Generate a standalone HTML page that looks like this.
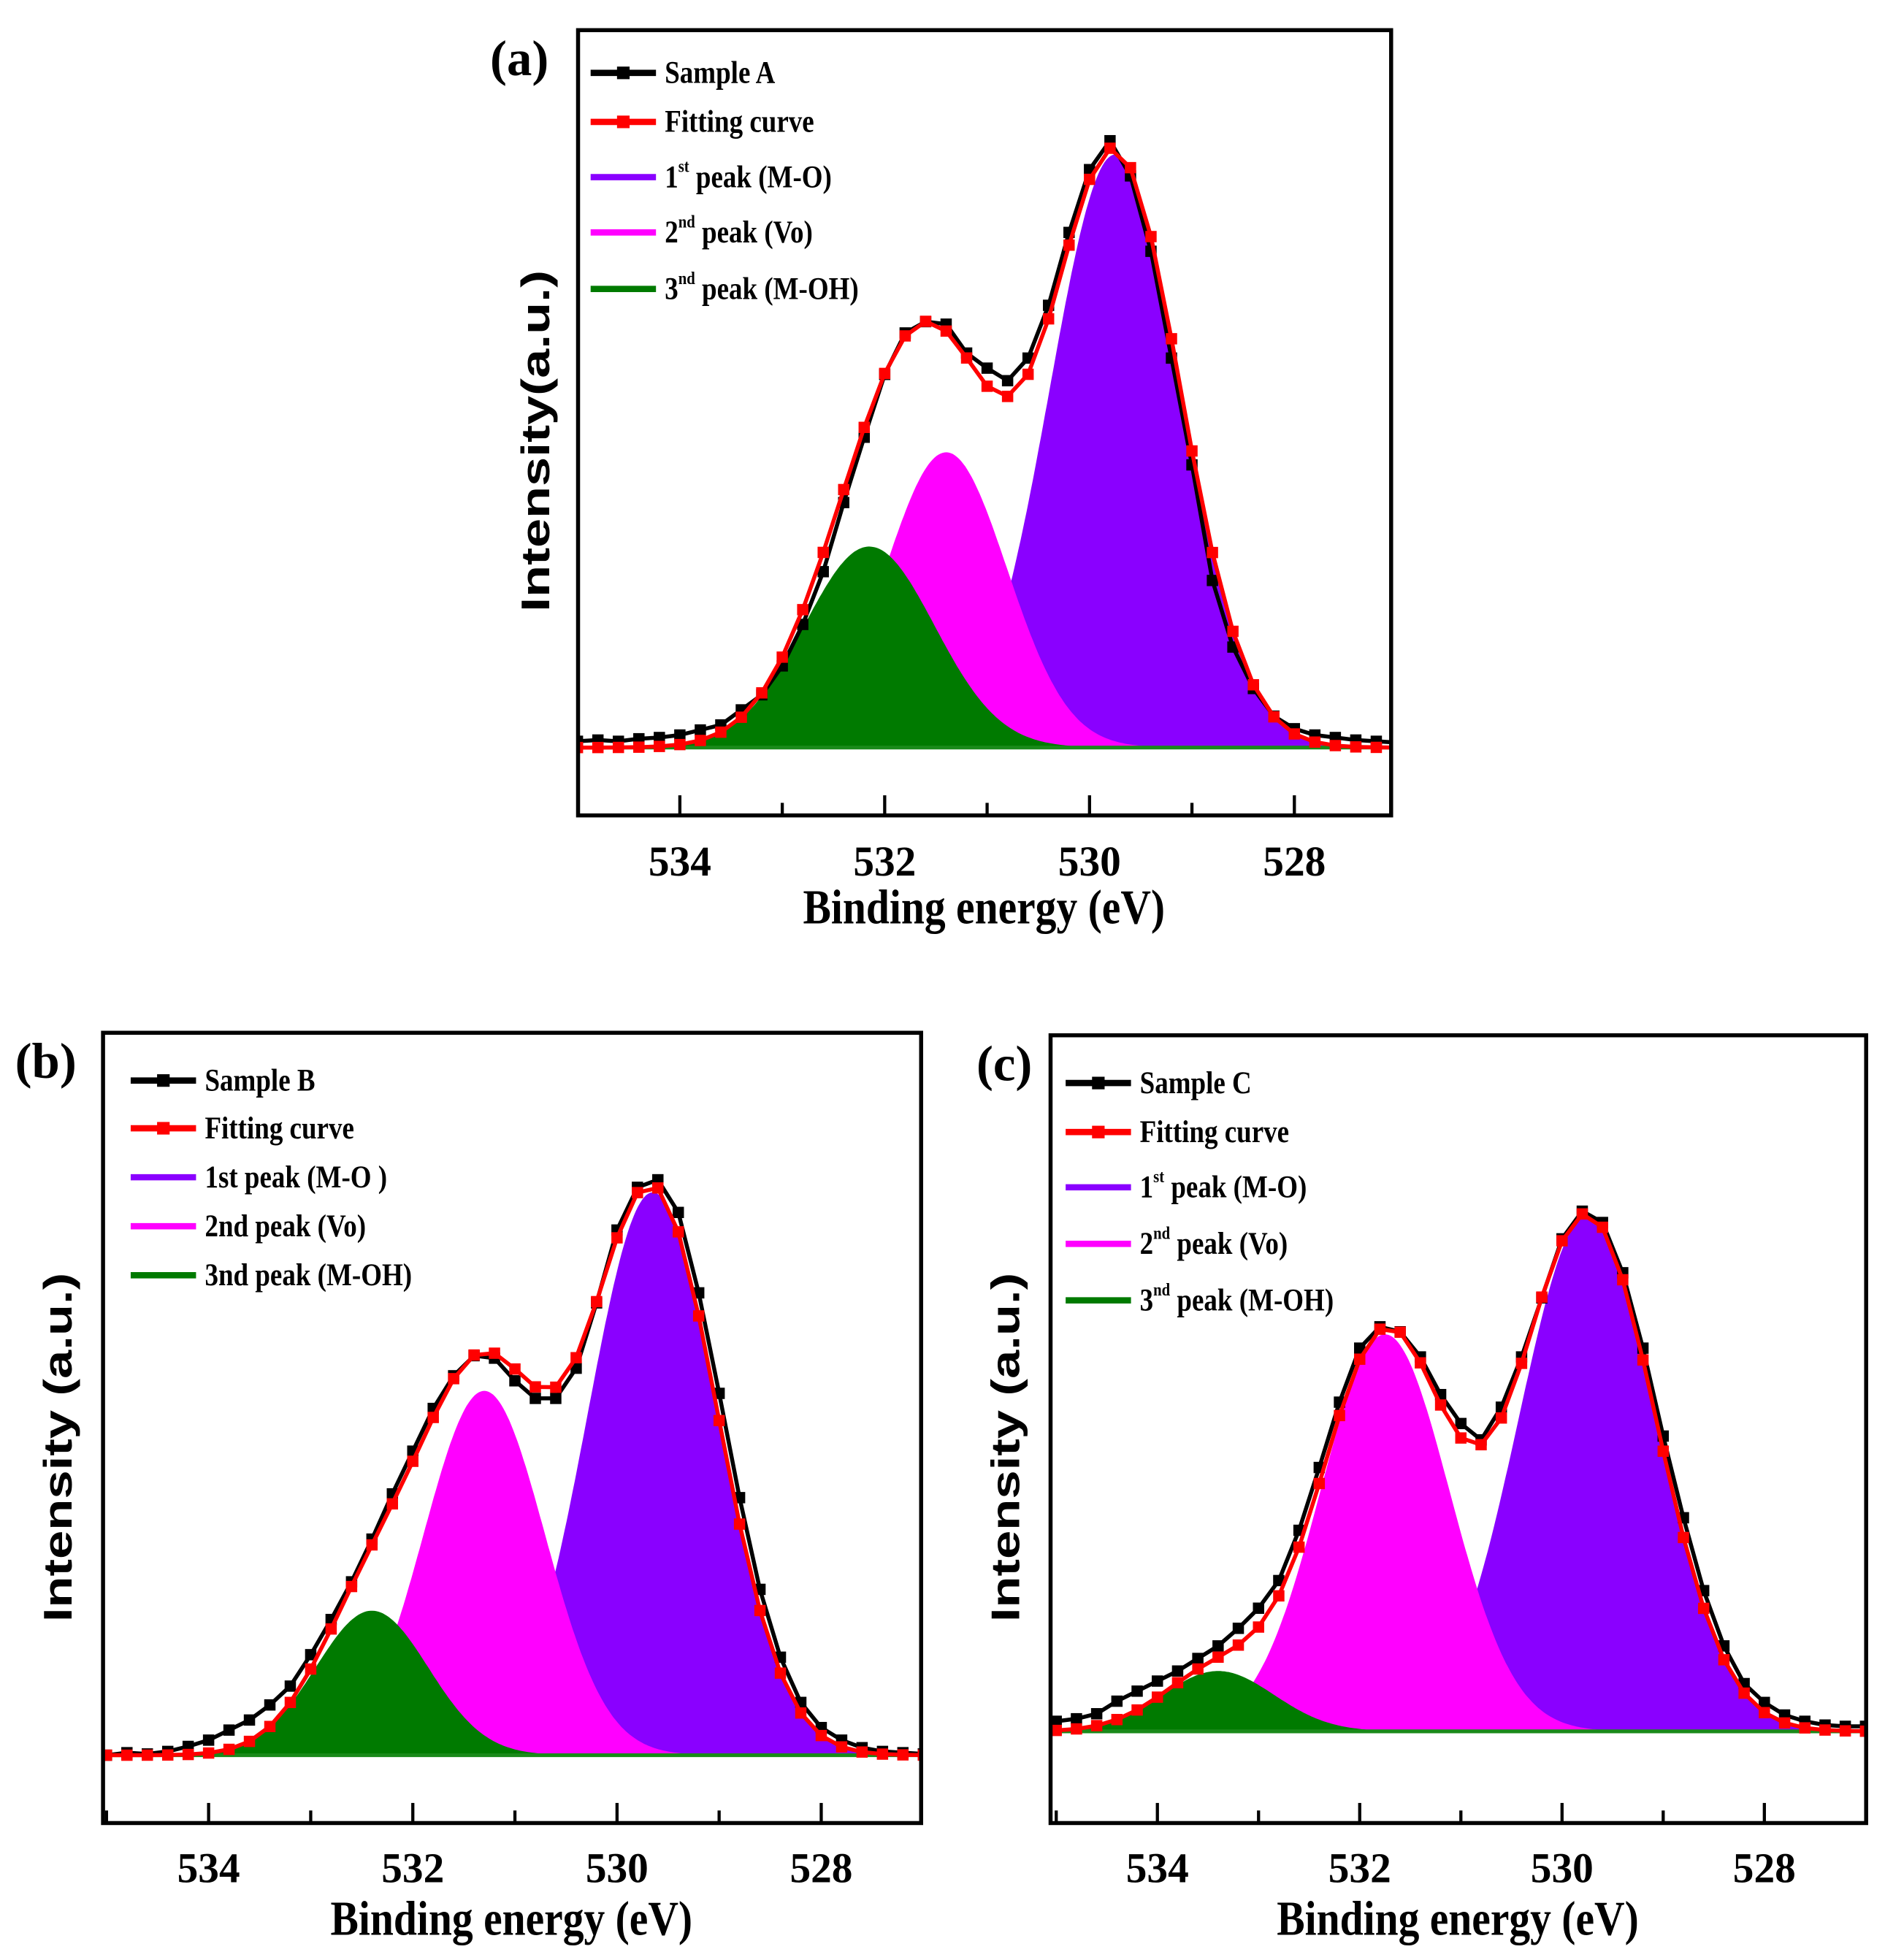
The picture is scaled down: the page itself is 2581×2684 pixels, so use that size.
<!DOCTYPE html>
<html><head><meta charset="utf-8"><style>
html,body{margin:0;padding:0;background:#fff;}
svg{display:block;}
text{font-family:"Liberation Serif",serif;font-weight:bold;fill:#000;}
.sans{font-family:"Liberation Sans",sans-serif;}
</style></head><body>
<svg id="fig" width="2581" height="2684" viewBox="0 0 1500 1560" preserveAspectRatio="none" xmlns="http://www.w3.org/2000/svg"></svg>
<script>
// ---- data (binding energy grid in eV, intensities in arbitrary units) ----
const energyStart = 535.0;
const energyStep = -0.2;
const sampleA = [5,6,5,7,8,10,14,18,30,42,65,98,140,195,247,297,330,339,337,314,302,292,310,352,410,460,483,455,395,310,225,133,80,47,25,15,10,8,6,5,4];
const sampleB = [0,2,1,3,7,12,20,28,40,55,80,108,138,172,208,242,276,302,318,316,298,284,284,308,360,418,452,458,432,368,288,205,132,78,42,22,12,6,3,2,1];
const sampleC = [8,10,14,24,32,40,48,58,68,82,98,120,160,210,262,305,322,318,298,268,245,232,258,298,345,392,414,405,365,305,235,170,112,68,38,23,13,8,5,4,4];
// peak components: centers (eV), heights, FWHM (eV) — order: M-O, Vo, M-OH
const centersA = [529.75, 531.4, 532.15];
const heightsA = [472, 235, 160];
const fwhmA = [1.5, 1.4, 1.5];
const centersB = [529.65, 531.3, 532.4];
const heightsB = [448, 290, 115];
const fwhmB = [1.5, 1.4, 1.3];
const centersC = [529.75, 531.75, 533.4];
const heightsC = [410, 316, 48];
const fwhmC = [1.6, 1.5, 1.3];
const tickLabels = ["534","532","530","528"];
const tickValues = [534, 532, 530, 528];
const legendA = ["Sample A","Fitting curve"];
const legendB = ["Sample B","Fitting curve"];
const legendC = ["Sample C","Fitting curve"];

const NS = "http://www.w3.org/2000/svg";
const svg = document.getElementById("fig");
function mk(tag, attrs, parent){
  const e = document.createElementNS(NS, tag);
  for (const k in attrs) e.setAttribute(k, attrs[k]);
  (parent||svg).appendChild(e);
  return e;
}
function gauss(x, c, h, w){ const k = 4*Math.LN2/(w*w); return h*Math.exp(-k*(x-c)*(x-c)); }

function panel(cfg){
  const g = mk("g", {});
  
  
  const X = e => cfg.x534 + (534 - e) * cfg.pxPerEv;
  const Y = v => cfg.base - v;
  const eMin = 534 - (cfg.right - cfg.x534)/cfg.pxPerEv, eMax = 534 + (cfg.x534 - cfg.left)/cfg.pxPerEv;
  const colors = ["#8a00ff","#ff00ff","#007a00"];
  const compNames = ["peak-m-o-fill","peak-vo-fill","peak-m-oh-fill"];
  const clip = mk("clipPath", {id: cfg.name+"-clip"}, g);
  mk("rect", {x:cfg.left, y:cfg.top, width:cfg.right-cfg.left, height:cfg.bottom-cfg.top}, clip);
  const plot = mk("g", {"clip-path":"url(#"+cfg.name+"-clip)"}, g);
  for (let i=0;i<3;i++){
    let d = "M"+X(eMax)+","+Y(0);
    for (let e=eMax; e>=eMin-0.01; e-=0.02) d += " L"+X(e).toFixed(1)+","+Y(gauss(e,cfg.c[i],cfg.h[i],cfg.w[i])).toFixed(1);
    d += " L"+X(eMin)+","+Y(0)+"Z";
    const p = mk("path", {d:d, fill:colors[i], stroke:"none"}, plot);
    
    
  }
  const bl = mk("line",{x1:cfg.left,x2:cfg.right,y1:Y(0),y2:Y(0),stroke:"#1a8a1a","stroke-width":3},plot);
  
  
  const n = cfg.sample.length;
  const es = [], fit = [];
  for (let i=0;i<n;i++){ const e = energyStart + i*energyStep; es.push(e);
    fit.push(cfg.c.reduce((s,c,j)=>s+gauss(e,c,cfg.h[j],cfg.w[j]),0)); }
  const line = (vals,color,name)=>{
    const p = mk("polyline",{points:vals.map((v,i)=>X(es[i]).toFixed(1)+","+Y(v).toFixed(1)).join(" "),fill:"none",stroke:color,"stroke-width":3.2,"stroke-linejoin":"round"},plot);
    
    
    vals.forEach((v,i)=>{
      const r = mk("rect",{x:X(es[i])-4.5,y:Y(v)-4.5,width:9,height:9,fill:color},plot);
      
      
    });
  };
  line(cfg.sample,"#000","sample-data");
  line(fit,"#ff0000","fitting-curve");
  const fr = mk("rect",{x:cfg.left,y:cfg.top,width:cfg.right-cfg.left,height:cfg.bottom-cfg.top,fill:"none",stroke:"#000","stroke-width":3.2},g);
  
  
  for (let e=535; e>=527; e-=1){
    const x = X(e); if (x<cfg.left+2||x>cfg.right-2) continue;
    const major = tickValues.includes(e);
    const t = mk("line",{x1:x,x2:x,y1:cfg.bottom,y2:cfg.bottom-(major?16:10),stroke:"#000","stroke-width":2.5},g);
    
    
  }
  tickLabels.forEach((lab,i)=>{
    const t = mk("text",{x:X(tickValues[i]),y:cfg.tickY,"font-size":34,"text-anchor":"middle",textLength:50,lengthAdjust:"spacingAndGlyphs"},g);
    t.textContent = lab;
    
    
  });
  const xt = mk("text",{x:cfg.xTitleX,y:cfg.xTitleY,"font-size":39,"text-anchor":"middle",textLength:288,lengthAdjust:"spacingAndGlyphs"},g);
  xt.textContent = "Binding energy (eV)";
  
  
  const yt = mk("text",{x:0,y:0,"font-size":32,"text-anchor":"middle",class:"sans",textLength:cfg.yLen,lengthAdjust:"spacingAndGlyphs",transform:"translate("+cfg.yTitleX+","+cfg.yTitleY+") rotate(-90)"},g);
  yt.textContent = cfg.yTitle;
  
  
  const pl = mk("text",{x:cfg.labX,y:cfg.labY,"font-size":40},g);
  pl.textContent = cfg.label;
  
  
  const lc = ["#000","#ff0000","#8a00ff","#ff00ff","#007a00"];
  cfg.legY.forEach((ly,i)=>{
    const lg = mk("g",{},g);
    
    
    mk("line",{x1:cfg.legX,x2:cfg.legX+52,y1:ly,y2:ly,stroke:lc[i],"stroke-width":5},lg);
    if (i<2) mk("rect",{x:cfg.legX+21,y:ly-5,width:10,height:10,fill:lc[i]},lg);
    const tg = mk("g",{transform:"translate("+(cfg.legX+59)+","+(ly+8)+") scale(0.86,1)"},lg);
    const t = mk("text",{x:0,y:0,"font-size":25},tg);
    const it = cfg.legText[i];
    if (typeof it === "string") t.textContent = it;
    else { const a = mk("tspan",{},t); a.textContent = it[0];
      const s = mk("tspan",{"font-size":14,dy:-12},t); s.textContent = it[1];
      const b = mk("tspan",{dy:12},t); b.textContent = it[2]; }
  });
}

panel({name:"panel-a",left:460,right:1107,top:24,bottom:649,x534:541,pxPerEv:81.5,base:595,
  sample:sampleA,c:centersA,h:heightsA,w:fwhmA,tickY:697,xTitleX:783,xTitleY:735,
  yTitle:"Intensity(a.u.)",yTitleX:437,yTitleY:351,yLen:272,label:"(a)",labX:390,labY:60,
  legX:470,legY:[58,97,141,185,230],
  legText:[legendA[0],legendA[1],["1","st"," peak (M-O)"],["2","nd"," peak (Vo)"],["3","nd"," peak (M-OH)"]]});
panel({name:"panel-b",left:82,right:733,top:822,bottom:1451,x534:166,pxPerEv:81.25,base:1397,
  sample:sampleB,c:centersB,h:heightsB,w:fwhmB,tickY:1498,xTitleX:407,xTitleY:1540,
  yTitle:"Intensity (a.u.)",yTitleX:57,yTitleY:1152,yLen:278,label:"(b)",labX:12,labY:858,
  legX:104,legY:[860,898,937,976,1015],
  legText:[legendB[0],legendB[1],"1st peak (M-O )","2nd peak (Vo)","3nd peak (M-OH)"]});
panel({name:"panel-c",left:836,right:1485,top:824,bottom:1451,x534:921,pxPerEv:80.5,base:1378,
  sample:sampleC,c:centersC,h:heightsC,w:fwhmC,tickY:1498,xTitleX:1160,xTitleY:1540,
  yTitle:"Intensity (a.u.)",yTitleX:811,yTitleY:1152,yLen:278,label:"(c)",labX:777,labY:860,
  legX:848,legY:[862,901,945,990,1035],
  legText:[legendC[0],legendC[1],["1","st"," peak (M-O)"],["2","nd"," peak (Vo)"],["3","nd"," peak (M-OH)"]]});
</script>
</body></html>
